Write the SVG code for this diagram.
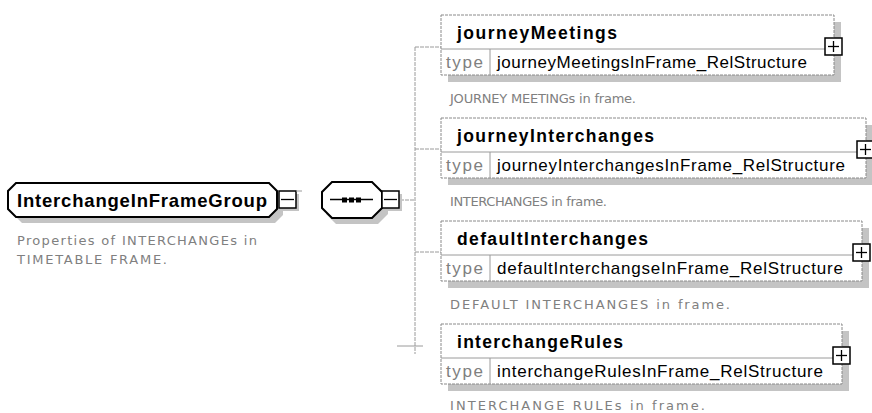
<svg xmlns="http://www.w3.org/2000/svg" width="872" height="413" viewBox="0 0 872 413">
<defs>
<style>
.shadow{fill:#c4c4c4;stroke:none}
.grp{fill:#fff;stroke:#000;stroke-width:2}
.elbox{fill:#fff;stroke:#8a8a8a;stroke-width:1;stroke-dasharray:3,1}
.sep{stroke:#9a9a9a;stroke-width:1}
.conn{fill:none;stroke:#9a9a9a;stroke-width:1;stroke-dasharray:4,1}
.btn{fill:#fff;stroke:#000;stroke-width:1.5}
.btnl{stroke:#000;stroke-width:1.3}
.title{font-family:"Liberation Sans",Arial,sans-serif;font-weight:bold;font-size:18.5px;fill:#000}
.name{font-family:"Liberation Sans",Arial,sans-serif;font-weight:bold;font-size:17.5px;fill:#000}
.typel{font-family:"Liberation Sans",Arial,sans-serif;font-size:17px;fill:#808080}
.typev{font-family:"Liberation Sans",Arial,sans-serif;font-size:17px;fill:#000}
.desc{font-family:"DejaVu Sans",Verdana,sans-serif;font-size:13px;fill:#808080}
</style>
</defs>

<g id="connectors">
<path class="conn" d="M400,200 H415"/>
<path class="conn" d="M415,47 V354"/>
<path class="conn" d="M415,47 H441"/>
<path class="conn" d="M415,149 H441"/>
<path class="conn" d="M415,252 H441"/>
<path class="sep" d="M397,346 H423"/>
</g>

<g id="InterchangeInFrameGroup">
<path class="shadow" d="M22,189 H275 L283,197 V215 L275,223 H22 L14,215 V197 Z"/>
<path class="grp" d="M16,183 H269 L277,191 V209 L269,217 H16 L8,209 V191 Z"/>
<text class="title" x="17" y="207" textLength="250" lengthAdjust="spacing">InterchangeInFrameGroup</text>
<rect class="shadow" x="282" y="194" width="17" height="17"/>
<rect class="btn" x="279" y="191" width="17" height="17"/>
<line class="btnl" x1="281" y1="199.5" x2="294" y2="199.5"/>
<line class="sep" x1="296" y1="191" x2="302" y2="191"/>
<text class="desc" x="17" y="245" textLength="240" lengthAdjust="spacing">Properties of INTERCHANGEs in</text>
<text class="desc" x="17" y="264" textLength="150" lengthAdjust="spacing">TIMETABLE FRAME.</text>
</g>

<g id="sequence">
<path class="shadow" d="M336,188 H378 L388,198 V214 L378,224 H336 L326,214 V198 Z"/>
<path class="grp" d="M332,182 H372 L382,192 V208 L372,218 H332 L322,208 V192 Z"/>
<line x1="330" y1="199.5" x2="373" y2="199.5" stroke="#000" stroke-width="1.3"/>
<rect x="342" y="197.5" width="5" height="5" fill="#000"/>
<rect x="349" y="197.5" width="5" height="5" fill="#000"/>
<rect x="356" y="197.5" width="5" height="5" fill="#000"/>
<rect class="shadow" x="385" y="194" width="17" height="17"/>
<rect class="btn" x="382" y="191" width="17" height="17"/>
<line class="btnl" x1="384" y1="199.5" x2="397" y2="199.5"/>
</g>

<g id="journeyMeetings">
<rect class="shadow" x="448" y="22" width="393" height="60"/>
<rect class="elbox" x="441" y="15" width="393" height="60"/>
<line class="sep" x1="441" y1="49" x2="834" y2="49"/>
<line class="sep" x1="490" y1="49" x2="490" y2="75"/>
<text class="name" x="457" y="39" textLength="160" lengthAdjust="spacing">journeyMeetings</text>
<text class="typel" x="446" y="68" textLength="37" lengthAdjust="spacing">type</text>
<text class="typev" x="497" y="68" textLength="310" lengthAdjust="spacing">journeyMeetingsInFrame_RelStructure</text>
<text class="desc" x="450" y="103" textLength="186" lengthAdjust="spacing">JOURNEY MEETINGs in frame.</text>
<rect class="btn" x="825" y="38" width="17" height="17" stroke-width="2"/>
<line class="btnl" x1="828" y1="46.5" x2="839" y2="46.5"/>
<line class="btnl" x1="833.5" y1="41" x2="833.5" y2="52"/>
</g>

<g id="journeyInterchanges">
<rect class="shadow" x="448" y="125" width="425" height="60"/>
<rect class="elbox" x="441" y="118" width="425" height="60"/>
<line class="sep" x1="441" y1="152" x2="866" y2="152"/>
<line class="sep" x1="490" y1="152" x2="490" y2="178"/>
<text class="name" x="457" y="142" textLength="197" lengthAdjust="spacing">journeyInterchanges</text>
<text class="typel" x="446" y="171" textLength="37" lengthAdjust="spacing">type</text>
<text class="typev" x="497" y="171" textLength="348" lengthAdjust="spacing">journeyInterchangesInFrame_RelStructure</text>
<text class="desc" x="450" y="206" textLength="157" lengthAdjust="spacing">INTERCHANGES in frame.</text>
<rect class="btn" x="857" y="141" width="17" height="17" stroke-width="2"/>
<line class="btnl" x1="860" y1="149.5" x2="871" y2="149.5"/>
<line class="btnl" x1="865.5" y1="144" x2="865.5" y2="155"/>
</g>

<g id="defaultInterchanges">
<rect class="shadow" x="448" y="228" width="421" height="60"/>
<rect class="elbox" x="441" y="221" width="421" height="60"/>
<line class="sep" x1="441" y1="255" x2="862" y2="255"/>
<line class="sep" x1="490" y1="255" x2="490" y2="281"/>
<text class="name" x="457" y="245" textLength="191" lengthAdjust="spacing">defaultInterchanges</text>
<text class="typel" x="446" y="274" textLength="37" lengthAdjust="spacing">type</text>
<text class="typev" x="497" y="274" textLength="346" lengthAdjust="spacing">defaultInterchangseInFrame_RelStructure</text>
<text class="desc" x="450" y="309" textLength="280" lengthAdjust="spacing">DEFAULT INTERCHANGES in frame.</text>
<rect class="btn" x="853" y="244" width="17" height="17" stroke-width="2"/>
<line class="btnl" x1="856" y1="252.5" x2="867" y2="252.5"/>
<line class="btnl" x1="861.5" y1="247" x2="861.5" y2="258"/>
</g>

<g id="interchangeRules">
<rect class="shadow" x="448" y="331" width="401" height="60"/>
<rect class="elbox" x="441" y="324" width="401" height="60"/>
<line class="sep" x1="441" y1="358" x2="842" y2="358"/>
<line class="sep" x1="490" y1="358" x2="490" y2="384"/>
<text class="name" x="457" y="348" textLength="166" lengthAdjust="spacing">interchangeRules</text>
<text class="typel" x="446" y="377" textLength="37" lengthAdjust="spacing">type</text>
<text class="typev" x="497" y="377" textLength="326" lengthAdjust="spacing">interchangeRulesInFrame_RelStructure</text>
<text class="desc" x="450" y="410" textLength="255" lengthAdjust="spacing">INTERCHANGE RULEs in frame.</text>
<rect class="btn" x="833" y="347" width="17" height="17" stroke-width="2"/>
<line class="btnl" x1="836" y1="355.5" x2="847" y2="355.5"/>
<line class="btnl" x1="841.5" y1="350" x2="841.5" y2="361"/>
</g>
</svg>
